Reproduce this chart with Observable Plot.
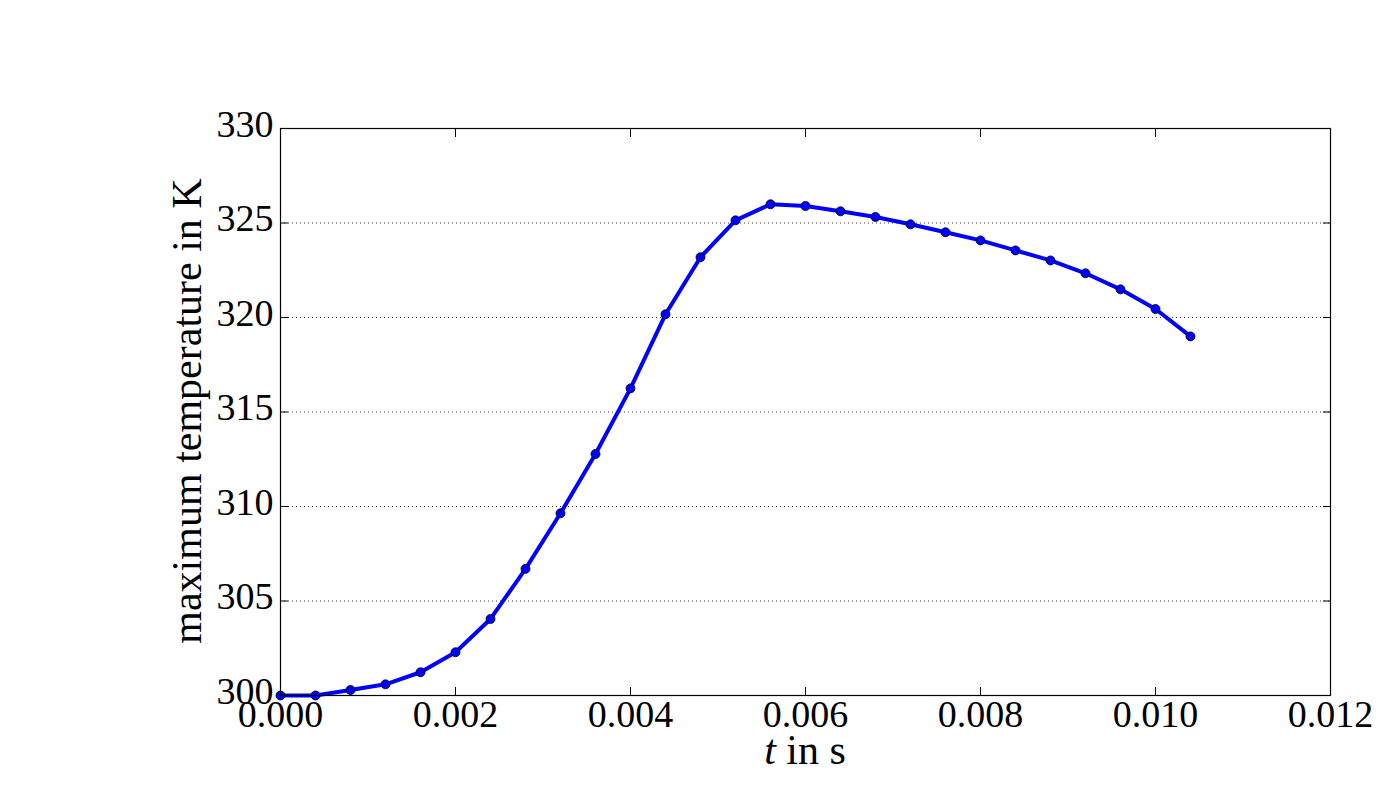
<!DOCTYPE html>
<html>
<head>
<meta charset="utf-8">
<script src="https://cdn.jsdelivr.net/npm/d3@7"></script>
<script src="https://cdn.jsdelivr.net/npm/@observablehq/plot@0.6"></script>
<style>
  html, body { margin: 0; padding: 0; background: #fff; }
  #chart { width: 1400px; height: 800px; }
  #chart svg, #chart svg text { font-family: "Liberation Serif", "DejaVu Serif", serif !important; }
</style>
</head>
<body>
<div id="chart"></div>
<script>
// Data
const times = [0, 0.0004, 0.0008, 0.0012, 0.0016, 0.0020, 0.0024, 0.0028, 0.0032, 0.0036,
  0.0040, 0.0044, 0.0048, 0.0052, 0.0056, 0.0060, 0.0064, 0.0068, 0.0072, 0.0076,
  0.0080, 0.0084, 0.0088, 0.0092, 0.0096, 0.0100, 0.0104];
const maxTemps = [300.0, 300.0, 300.29, 300.59, 301.23, 302.29, 304.05, 306.7, 309.64, 312.78,
  316.25, 320.17, 323.19, 325.14, 325.99, 325.9, 325.62, 325.32, 324.93, 324.51,
  324.08, 323.55, 323.02, 322.34, 321.49, 320.45, 319.0];
const xTicks = [0, 0.002, 0.004, 0.006, 0.008, 0.010, 0.012];
const yTicks = [300, 305, 310, 315, 320, 325, 330];
const xLabel = "in s";
const yLabel = "maximum temperature in K";

const data = times.map((t, i) => ({t, T: maxTemps[i]}));
const fmtX = d3.format(".3f");

const plot = Plot.plot({
  width: 1400,
  height: 800,
  marginLeft: 280,
  marginRight: 70,
  marginTop: 128,
  marginBottom: 105,
  x: {domain: [0, 0.012]},
  y: {domain: [300, 330]},
  style: {fontSize: "38px", color: "#000", background: "#fff"},
  marks: [
    Plot.gridY(yTicks, {stroke: "#000", strokeOpacity: 0.75, strokeWidth: 1, strokeDasharray: "1,3"}),
    Plot.axisX(xTicks, {anchor: "bottom", tickSize: 0, tickPadding: 5, tickFormat: fmtX, label: null}),
    Plot.axisX(xTicks, {anchor: "bottom", tickSize: -8, tickFormat: () => "", label: null}),
    Plot.axisX(xTicks, {anchor: "top", tickSize: -8, tickFormat: () => "", label: null}),
    Plot.axisY(yTicks, {anchor: "left", tickSize: 0, tickPadding: 7, dy: -4, tickFormat: d3.format("d"), label: null}),
    Plot.axisY(yTicks, {anchor: "left", tickSize: -8, tickFormat: () => "", label: null}),
    Plot.axisY(yTicks, {anchor: "right", tickSize: -8, tickFormat: () => "", label: null}),
    Plot.line(data, {x: "t", y: "T", stroke: "#0000ff", strokeWidth: 4, strokeLinejoin: "round"}),
    Plot.dot(data, {x: "t", y: "T", r: 4.5, fill: "#0000ff", stroke: "#000", strokeWidth: 0.8}),
    Plot.frame({stroke: "#000", strokeWidth: 1.2})
  ]
});

const svg = d3.select(plot);
// x-axis label with italic t
const xl = svg.append("text")
  .attr("x", 805)
  .attr("y", 764)
  .attr("text-anchor", "middle")
  .attr("font-size", 42)
  .attr("fill", "#000");
xl.append("tspan").attr("font-style", "italic").text("t");
xl.append("tspan").text(" " + xLabel);

svg.append("text")
  .attr("transform", "translate(201,411) rotate(-90)")
  .attr("text-anchor", "middle")
  .attr("font-size", 42)
  .attr("fill", "#000")
  .text(yLabel);

svg.selectAll("text").attr("font-family", "Liberation Serif, DejaVu Serif, serif");

document.getElementById("chart").appendChild(plot);
</script>
</body>
</html>
